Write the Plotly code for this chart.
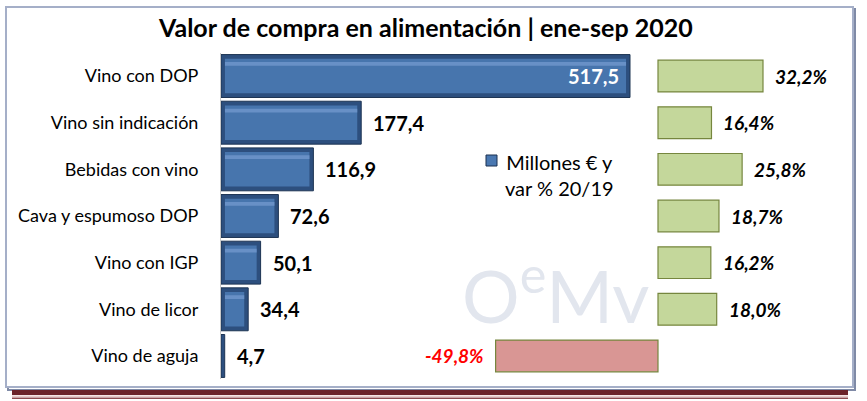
import plotly.graph_objects as go

categories = ["Vino con DOP", "Vino sin indicación", "Bebidas con vino",
              "Cava y espumoso DOP", "Vino con IGP", "Vino de licor", "Vino de aguja"]
valor_meur = [517.5, 177.4, 116.9, 72.6, 50.1, 34.4, 4.7]
var_pct = [32.2, 16.4, 25.8, 18.7, 16.2, 18.0, -49.8]
title_text = "Valor de compra en alimentación | ene-sep 2020"
legend_text = "Millones € y<br>var % 20/19"

W, H = 867, 401
FONT = "Lato"

def px(x):
    return x / W

def py(y):
    return 1 - y / H

fig = go.Figure()

# main bars (outer dark bevel + inner lighter body + top highlight)
fig.add_trace(go.Bar(
    y=categories, x=valor_meur, orientation="h", width=0.92,
    marker=dict(color="#2d4f7e", line=dict(color="#1d3453", width=1)),
    xaxis="x", yaxis="y", showlegend=False, hoverinfo="skip"))
off = 5.0
bases = [off if v > 2 * off else 0 for v in valor_meur]
inner = [max(v - 2 * off, 0) for v in valor_meur]
fig.add_trace(go.Bar(
    y=categories, x=inner, base=bases,
    orientation="h", width=0.74,
    marker=dict(color="#4775ad", line=dict(width=0)),
    xaxis="x", yaxis="y", showlegend=False, hoverinfo="skip"))
fig.add_trace(go.Bar(
    y=categories, x=inner, base=bases,
    orientation="h", width=0.08, offset=-0.3,
    marker=dict(color="#6890c6", line=dict(width=0)),
    xaxis="x", yaxis="y", showlegend=False, hoverinfo="skip"))

# variation bars
fig.add_trace(go.Bar(
    y=categories, x=var_pct, orientation="h", width=0.68,
    marker=dict(color=["#c4d79b" if v >= 0 else "#d99694" for v in var_pct],
                line=dict(color="#76863e", width=1.2)),
    xaxis="x2", yaxis="y2", showlegend=False, hoverinfo="skip"))

ann = []
for c, v in zip(categories, valor_meur):
    lab = f"{v:.1f}".replace(".", ",")
    if v > 400:
        ann.append(dict(x=v, y=c, xref="x", yref="y", text=f"<b>{lab}</b>",
                        xanchor="right", xshift=-9, showarrow=False,
                        font=dict(family=FONT, size=20, color="white")))
    else:
        ann.append(dict(x=v, y=c, xref="x", yref="y", text=f"<b>{lab}</b>",
                        xanchor="left", xshift=10, showarrow=False,
                        font=dict(family=FONT, size=20, color="black")))
for c, v in zip(categories, var_pct):
    lab = f"{v:.1f}%".replace(".", ",")
    if v >= 0:
        ann.append(dict(x=v, y=c, xref="x2", yref="y2", text=f"<b><i>{lab}</i></b>",
                        xanchor="left", xshift=10, showarrow=False,
                        font=dict(family=FONT, size=19, color="black")))
    else:
        ann.append(dict(x=v, y=c, xref="x2", yref="y2", text=f"<b><i>{lab}</i></b>",
                        xanchor="right", xshift=-10, showarrow=False,
                        font=dict(family=FONT, size=19, color="#ff0000")))

# title
ann.append(dict(x=px(425), y=py(27), xref="paper", yref="paper", text=f"<b>{title_text}</b>",
                showarrow=False, xanchor="center", yanchor="middle",
                font=dict(family=FONT, size=25, color="black")))
# legend
ann.append(dict(x=px(503), y=py(175), xref="paper", yref="paper", text=legend_text,
                showarrow=False, xanchor="left", yanchor="middle", align="center",
                font=dict(family=FONT, size=20, color="black")))
# watermark
ann.append(dict(x=px(555), y=py(290), xref="paper", yref="paper",
                text="O<sup>e</sup>Mv", showarrow=False, xanchor="center", yanchor="middle",
                font=dict(family=FONT, size=72, color="#e2e6ee")))

shapes = [
    # shadow + frame
    dict(type="rect", xref="paper", yref="paper", x0=px(8), x1=px(855), y0=py(390), y1=py(9),
         line=dict(color="#7f8aa6", width=2), layer="below"),
    dict(type="rect", xref="paper", yref="paper", x0=px(6), x1=px(853), y0=py(387), y1=py(7),
         line=dict(color="#a5afc8", width=2), fillcolor="white", layer="below"),
    # decorative bottom bands
    dict(type="rect", xref="paper", yref="paper", x0=px(12), x1=px(848), y0=py(395), y1=py(390),
         line=dict(width=0), fillcolor="#6b2229", layer="below"),
    dict(type="rect", xref="paper", yref="paper", x0=px(12), x1=px(848), y0=py(397), y1=py(395.5),
         line=dict(width=0), fillcolor="#e7c8c8", layer="below"),
    dict(type="rect", xref="paper", yref="paper", x0=px(12), x1=px(848), y0=py(399), y1=py(397.5),
         line=dict(width=0), fillcolor="#8e4a50", layer="below"),
    # legend key
    dict(type="rect", xref="paper", yref="paper", x0=px(486), x1=px(497), y0=py(166), y1=py(155),
         line=dict(color="#1b3150", width=1), fillcolor="#4a78b1"),
]

ydom = [py(379.3), py(52.7)]
x1_left, x1_right = 221, 645
scale1 = 409 / 517.5
x2_left, x2_right, zero2 = 480, 780, 658
scale2 = 105 / 32.2

fig.update_layout(
    width=W, height=H, margin=dict(l=0, r=0, t=0, b=0),
    paper_bgcolor="white", plot_bgcolor="rgba(0,0,0,0)",
    barmode="overlay", separators=",.",
    font=dict(family=FONT, color="black"),
    xaxis=dict(domain=[px(x1_left), px(x1_right)], range=[0, (x1_right - x1_left) / scale1],
               visible=False, fixedrange=True),
    yaxis=dict(domain=ydom, categoryorder="array", categoryarray=categories,
               autorange="reversed", showline=True, linecolor="#c8c8c8", linewidth=1,
               ticks="", ticklabelstandoff=18, showgrid=False, zeroline=False,
               tickfont=dict(family=FONT, size=18, color="black")),
    xaxis2=dict(domain=[px(x2_left), px(x2_right)], anchor="y2",
                range=[-(zero2 - x2_left) / scale2, (x2_right - zero2) / scale2],
                visible=False, fixedrange=True),
    yaxis2=dict(domain=ydom, anchor="x2", categoryorder="array", categoryarray=categories,
                autorange="reversed", visible=False),
    annotations=ann, shapes=shapes,
)

fig.write_html("out.html")
